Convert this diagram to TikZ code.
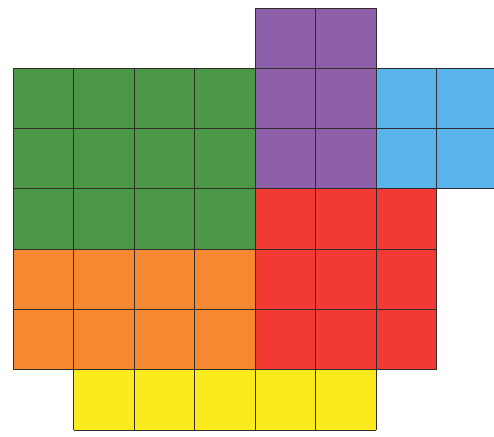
\documentclass[tikz,border=0pt]{standalone}
\definecolor{cgreen}{RGB}{74,152,70}
\definecolor{cpurple}{RGB}{142,96,170}
\definecolor{cblue}{RGB}{90,180,236}
\definecolor{cred}{RGB}{242,58,52}
\definecolor{corange}{RGB}{246,136,50}
\definecolor{cyellow}{RGB}{250,234,30}
\definecolor{cline}{RGB}{50,45,45}
\tikzset{
  gridl/.style={draw=cline, line width=0.9pt}
}
\newcommand{\piececells}[5]{% color, x0, y0, x1, y1
  \fill[#1] (#2,#3) rectangle (#4,#5);
  \foreach \xx in {#2,...,#4} \draw[gridl] (\xx,#3) -- (\xx,#5);
  \foreach \yy in {#3,...,#5} \draw[gridl] (#2,\yy) -- (#4,\yy);
}
\begin{document}
\begin{tikzpicture}[x=1pt,y=-1pt]
\useasboundingbox (0,0) rectangle (494,436);
\clip (0,0) rectangle (494,436);
\begin{scope}[shift={(13,8)}, x=60.5pt, y=-60.3pt]
  \piececells{cpurple}{4}{0}{6}{3}
  \piececells{cgreen}{0}{1}{4}{4}
  \piececells{cblue}{6}{1}{8}{3}
  \piececells{cred}{4}{3}{7}{6}
  \piececells{corange}{0}{4}{4}{6}
  \piececells{cyellow}{1}{6}{6}{7}
\end{scope}
\end{tikzpicture}
\end{document}
